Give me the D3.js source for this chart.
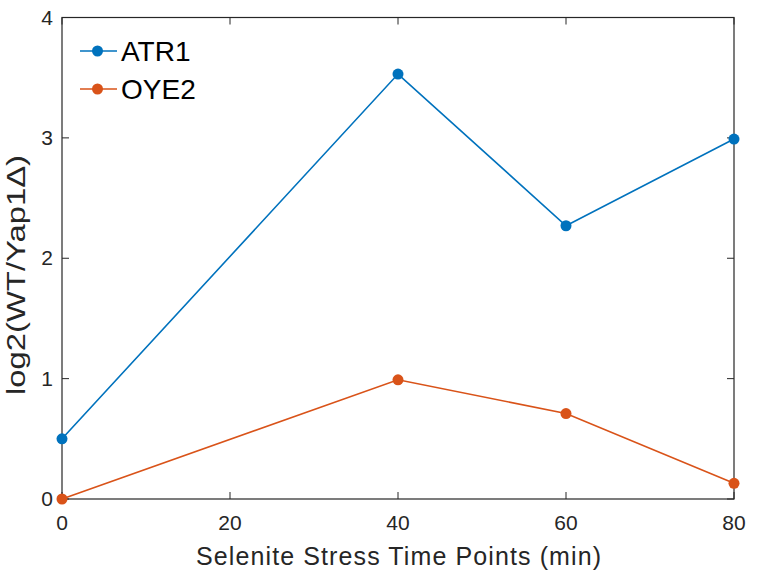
<!DOCTYPE html>
<html><head><meta charset="utf-8">
<script src="https://cdn.jsdelivr.net/npm/d3@7"></script>
<style>body{margin:0;background:#fff}svg{display:block;font-family:"Liberation Sans",Arial,Helvetica,sans-serif}</style>
</head><body><svg id="c" width="757" height="580"></svg>
<script>
const timePoints = [0, 40, 60, 80];
const atr1 = [0.5, 3.53, 2.27, 2.99];
const oye2 = [0.0, 0.99, 0.71, 0.13];
const xTicks = [0, 20, 40, 60, 80];
const yTicks = [0, 1, 2, 3, 4];
const seriesNames = ["ATR1", "OYE2"];
const colors = ["#0072BD", "#D95319"];

const svg = d3.select("#c");
const L = 62, R = 734, T = 17.5, B = 499;
const x = d3.scaleLinear().domain([0, 80]).range([L, R]);
const y = d3.scaleLinear().domain([0, 4]).range([B, T]);
const axisColor = "#262626";
const tickLen = 7;

svg.append("rect").attr("x", L).attr("y", T).attr("width", R - L).attr("height", B - T)
  .attr("fill", "none").attr("stroke", axisColor).attr("stroke-width", 1.2);

const gx = svg.append("g");
xTicks.forEach(t => {
  gx.append("line").attr("x1", x(t)).attr("x2", x(t)).attr("y1", B).attr("y2", B - tickLen).attr("stroke", axisColor);
  gx.append("line").attr("x1", x(t)).attr("x2", x(t)).attr("y1", T).attr("y2", T + tickLen).attr("stroke", axisColor);
  gx.append("text").attr("x", x(t)).attr("y", B + 31).attr("text-anchor", "middle")
    .attr("font-size", 21).attr("fill", "#262626").text(t);
});
const gy = svg.append("g");
yTicks.forEach(t => {
  gy.append("line").attr("x1", L).attr("x2", L + tickLen).attr("y1", y(t)).attr("y2", y(t)).attr("stroke", axisColor);
  gy.append("line").attr("x1", R).attr("x2", R - tickLen).attr("y1", y(t)).attr("y2", y(t)).attr("stroke", axisColor);
  gy.append("text").attr("x", L - 9).attr("y", y(t) + 7).attr("text-anchor", "end")
    .attr("font-size", 21).attr("fill", "#262626").text(t);
});

svg.append("text").attr("x", 398.5).attr("y", 565).attr("text-anchor", "middle")
  .attr("font-size", 25).attr("fill", "#262626")
  .attr("textLength", 405).attr("lengthAdjust", "spacing")
  .text("Selenite Stress Time Points (min)");
svg.append("text").attr("transform", `translate(25,275) rotate(-90)`).attr("text-anchor", "middle")
  .attr("font-size", 25).attr("fill", "#262626")
  .attr("textLength", 240).attr("lengthAdjust", "spacingAndGlyphs")
  .text("log2(WT/Yap1Δ)");

const line = d3.line().x((d, i) => x(timePoints[i])).y(d => y(d));
[atr1, oye2].forEach((s, k) => {
  svg.append("path").attr("d", line(s)).attr("fill", "none").attr("stroke", colors[k]).attr("stroke-width", 1.6);
  svg.selectAll(null).data(s).enter().append("circle")
    .attr("cx", (d, i) => x(timePoints[i])).attr("cy", d => y(d)).attr("r", 5.5).attr("fill", colors[k]);
});

seriesNames.forEach((n, k) => {
  const ly = 51 + k * 38;
  svg.append("line").attr("x1", 80).attr("x2", 117).attr("y1", ly).attr("y2", ly).attr("stroke", colors[k]).attr("stroke-width", 1.6);
  svg.append("circle").attr("cx", 97.5).attr("cy", ly).attr("r", 5.5).attr("fill", colors[k]);
  svg.append("text").attr("x", 121).attr("y", ly + 10).attr("font-size", 28).attr("fill", "#000").text(n);
});
</script></body></html>
